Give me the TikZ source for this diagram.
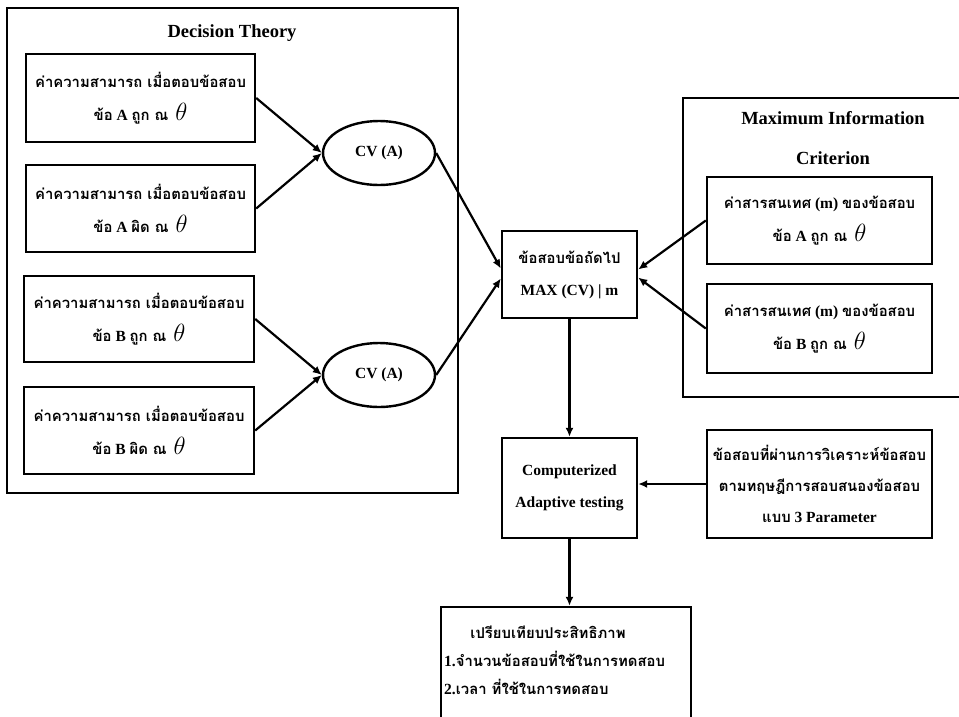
\documentclass[tikz,border=0pt]{standalone}
\usepackage{fontspec}
\setmainfont{Liberation Serif}
\newfontfamily\thaifont[Script=Thai,Scale=0.96]{Loma}
\usetikzlibrary{shapes.geometric,arrows.meta}
\newcommand{\tht}[1]{{\thaifont #1}}
\newcommand{\thet}{\hspace{3pt}{\fontsize{24}{24}\selectfont$\theta$}}
\tikzset{
  box/.style={draw, line width=2.4pt, inner sep=0pt},
  ell/.style={draw, ellipse, line width=2.4pt, inner sep=0pt, minimum width=112pt, minimum height=64pt},
  txt/.style={align=center, inner sep=0pt, font=\fontsize{15.5}{33}\selectfont\bfseries},
  ttl/.style={inner sep=0pt, font=\fontsize{18.5}{22}\selectfont\bfseries},
  arr/.style={line width=2.2pt, -{Latex[length=9pt,width=8pt]}},
}
\begin{document}
\begin{tikzpicture}[x=1pt,y=-1pt]
\clip (0,0) rectangle (959,716);
\fill[white] (0,0) rectangle (959,716);
% containers
\node[box, minimum width=451pt, minimum height=485pt] (dt) at (232.5,250.5) {};
\node[ttl] (dtt) at (232,33) {Decision Theory};
\node[box, minimum width=300pt, minimum height=299pt] (mi) at (833,247.5) {};
\node[ttl] (mit1) at (833,118) {Maximum Information};
\node[ttl] (mit2) at (833,158) {Criterion};
% left boxes
\node[box, minimum width=229pt, minimum height=88pt] (b1) at (140.5,98) {};
\node[txt] at (b1) {\tht{ค่าความสามารถ เมื่อตอบข้อสอบ}\\\tht{ข้อ} A \tht{ถูก ณ} \thet};
\node[box, minimum width=229pt, minimum height=87pt] (b2) at (140.5,208.5) {};
\node[txt] at (b2) {\tht{ค่าความสามารถ เมื่อตอบข้อสอบ}\\\tht{ข้อ} A \tht{ผิด ณ} \thet};
\node[box, minimum width=230pt, minimum height=86pt] (b3) at (139,319) {};
\node[txt] at (b3) {\tht{ค่าความสามารถ เมื่อตอบข้อสอบ}\\\tht{ข้อ} B \tht{ถูก ณ} \thet};
\node[box, minimum width=230pt, minimum height=87pt] (b4) at (139,430.5) {};
\node[txt] at (b4) {\tht{ค่าความสามารถ เมื่อตอบข้อสอบ}\\\tht{ข้อ} B \tht{ผิด ณ} \thet};
% ellipses
\node[ell] (e1) at (379,153) {};
\node[txt] at (e1) {CV (A)};
\node[ell] (e2) at (379,375) {};
\node[txt] at (e2) {CV (A)};
% center
\node[box, minimum width=135pt, minimum height=87pt] (mx) at (569.5,274.5) {};
\node[txt, font=\fontsize{15.5}{32}\selectfont\bfseries] at (mx) {\tht{ข้อสอบข้อถัดไป}\\MAX (CV) | m};
% right inner boxes
\node[box, minimum width=225pt, minimum height=87pt] (ma) at (819.5,220.5) {};
\node[txt] at (ma) {\tht{ค่าสารสนเทศ} (m) \tht{ของข้อสอบ}\\\tht{ข้อ} A \tht{ถูก ณ} \thet};
\node[box, minimum width=225pt, minimum height=89pt] (mb) at (819.5,328.5) {};
\node[txt] at (mb) {\tht{ค่าสารสนเทศ} (m) \tht{ของข้อสอบ}\\\tht{ข้อ} B \tht{ถูก ณ} \thet};
% CAT
\node[box, minimum width=135pt, minimum height=100pt] (cat) at (569.5,488) {};
\node[txt, font=\fontsize{15.5}{32}\selectfont\bfseries] at (cat) {Computerized\\Adaptive testing};
\node[box, minimum width=225pt, minimum height=108pt] (rb) at (819.5,484) {};
\node[txt, font=\fontsize{15.5}{31}\selectfont\bfseries] at (rb) {\tht{ข้อสอบที่ผ่านการวิเคราะห์ข้อสอบ}\\\tht{ตามทฤษฎีการสอบสนองข้อสอบ}\\\tht{แบบ} 3 Parameter};
% final
\node[box, minimum width=250pt, minimum height=130pt] (fn) at (566,672) {};
\node[txt, anchor=center] (f1) at (548,632) {\tht{เปรียบเทียบประสิทธิภาพ}};
\node[txt, anchor=west] (f2) at (444,659) {1.\tht{จำนวนข้อสอบที่ใช้ในการทดสอบ}};
\node[txt, anchor=west] (f3) at (444,687) {2.\tht{เวลา ที่ใช้ในการทดสอบ}};
% arrows
\draw[arr] (b1.east) -- (e1.west);
\draw[arr] (b2.east) -- (e1.west);
\draw[arr] (b3.east) -- (e2.west);
\draw[arr] (b4.east) -- (e2.west);
\draw[arr] (e1.east) -- ([yshift=6pt]mx.west);
\draw[arr] (e2.east) -- ([yshift=-4pt]mx.west);
\draw[arr] (ma.west) -- ([yshift=5pt]mx.east);
\draw[arr] (mb.west) -- ([yshift=-3pt]mx.east);
\draw[arr] (mx.south) -- (cat.north);
\draw[arr] (rb.west) -- (rb.west -| cat.east);
\draw[arr] (cat.south) -- (cat.south |- fn.north);
\end{tikzpicture}
\end{document}
